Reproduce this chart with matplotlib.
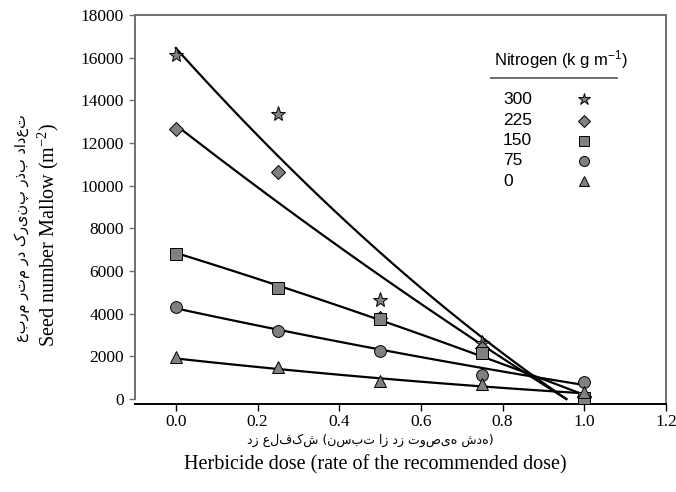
import numpy as np
import matplotlib
matplotlib.use('Agg')
import matplotlib.pyplot as plt

# herbicide dose (fraction of recommended dose)
dose = [0.0, 0.25, 0.5, 0.75, 1.0]

# nitrogen levels and seed counts (m-2)
nitrogen = ['300', '225', '150', '75', '0']
seeds_300 = [16130, 13350, 4640, 2610, 50]
seeds_225 = [12650, 10660, 3800, 2380, 80]
seeds_150 = [6800, 5180, 3750, 2140, 60]
seeds_75 = [4300, 3170, 2250, 1130, 810]
seeds_0 = [1950, 1480, 850, 700, 340]

# fitted curves y = a + b*x + c*x^2, drawn from 0 to x_end
fit_a = [16450, 12840, 6850, 4250, 1900]
fit_b = [-21300, -14865, -5940, -4126, -2087]
fit_c = [4280, 1500, -720, 532, 454]
fit_end = [0.956, 0.956, 1.0, 1.0, 1.0]

markers = ['*', 'D', 's', 'o', '^']
msizes = [11, 7.5, 8, 8.5, 8.5]
series = [seeds_300, seeds_225, seeds_150, seeds_75, seeds_0]

plt.rcParams['mathtext.default'] = 'regular'

W, H = 676, 492
fig = plt.figure(figsize=(W / 100, H / 100), dpi=100)
ax = fig.add_axes([135 / W, (H - 404) / H, 531 / W, 389 / H])

grey = '#808080'
frame = '#707070'

for i in range(len(series)):
    xs = np.linspace(0, fit_end[i], 100)
    ax.plot(xs, np.polyval([fit_c[i], fit_b[i], fit_a[i]], xs), color='black', lw=1.6, zorder=2)

for i in range(len(series)):
    ax.plot(dose, series[i], linestyle='none', marker=markers[i], ms=msizes[i],
            mfc=grey, mec='black', mew=0.7, zorder=3, clip_on=False)

ax.set_xlim(-0.1, 1.2)
ax.set_ylim(-234, 18000)
ax.set_xticks([0.0, 0.2, 0.4, 0.6, 0.8, 1.0, 1.2])
ax.set_xticklabels(['0.0', '0.2', '0.4', '0.6', '0.8', '1.0', '1.2'])
ax.set_yticks(np.arange(0, 18001, 2000))
ax.spines['left'].set_bounds(0, 18000)
for s in ['left', 'top', 'right']:
    ax.spines[s].set_color(frame)
    ax.spines[s].set_linewidth(1.4)
ax.spines['bottom'].set_color('black')
ax.spines['bottom'].set_linewidth(1.4)
ax.tick_params(axis='y', direction='out', length=4, width=1, color=frame, pad=4)
ax.tick_params(axis='x', direction='out', length=5, width=1, color='black', pad=2.5)
for lab in ax.get_xticklabels() + ax.get_yticklabels():
    lab.set_fontfamily('Liberation Serif')
    lab.set_fontsize(12.5)

# axis titles
fig.text(48 / W, 1 - 235 / H, 'Seed number Mallow (m$^{-2}$)', rotation=90,
         ha='center', va='center', family='Liberation Serif', fontsize=14.5)
fa_y = 'تعداد بذر پنیرک در متر مربع'
fig.text(22 / W, 1 - 228 / H, fa_y[::-1], rotation=90,
         ha='center', va='center', family='DejaVu Sans', fontsize=10.5)
fig.text(370 / W, 1 - 440 / H, 'دز علفکش (نسبت از دز توصیه شده)',
         ha='center', va='center', family='DejaVu Sans', fontsize=9)
fig.text(375 / W, 1 - 465 / H, 'Herbicide dose (rate of the recommended dose)',
         ha='center', va='center', family='Liberation Serif', fontsize=14.5)

# legend drawn by hand
def axf(px, py):
    return (px - 135) / 531, (404 - py) / 389

tx, ty = axf(561, 60)
ax.text(tx, ty, 'Nitrogen (k g m$^{-1}$)', transform=ax.transAxes, ha='center', va='center',
        family='Liberation Sans', fontsize=12)
x0, yl = axf(491, 77.7)
x1, _ = axf(617, 77.7)
ax.plot([x0, x1], [yl, yl], transform=ax.transAxes, color=frame, lw=1.4, clip_on=False)
row_y = [99.3, 120.7, 140.5, 160.5, 181]
for i in range(len(nitrogen)):
    lx, ly = axf(503, row_y[i])
    mx, _ = axf(584, row_y[i])
    ax.text(lx, ly, nitrogen[i], transform=ax.transAxes, ha='left', va='center',
            family='Liberation Sans', fontsize=12.5)
    ax.plot([mx], [ly], transform=ax.transAxes, marker=markers[i], ms=msizes[i] * 0.85,
            mfc=grey, mec='black', mew=0.7, linestyle='none', clip_on=False)

fig.savefig('out.png', dpi=100)
